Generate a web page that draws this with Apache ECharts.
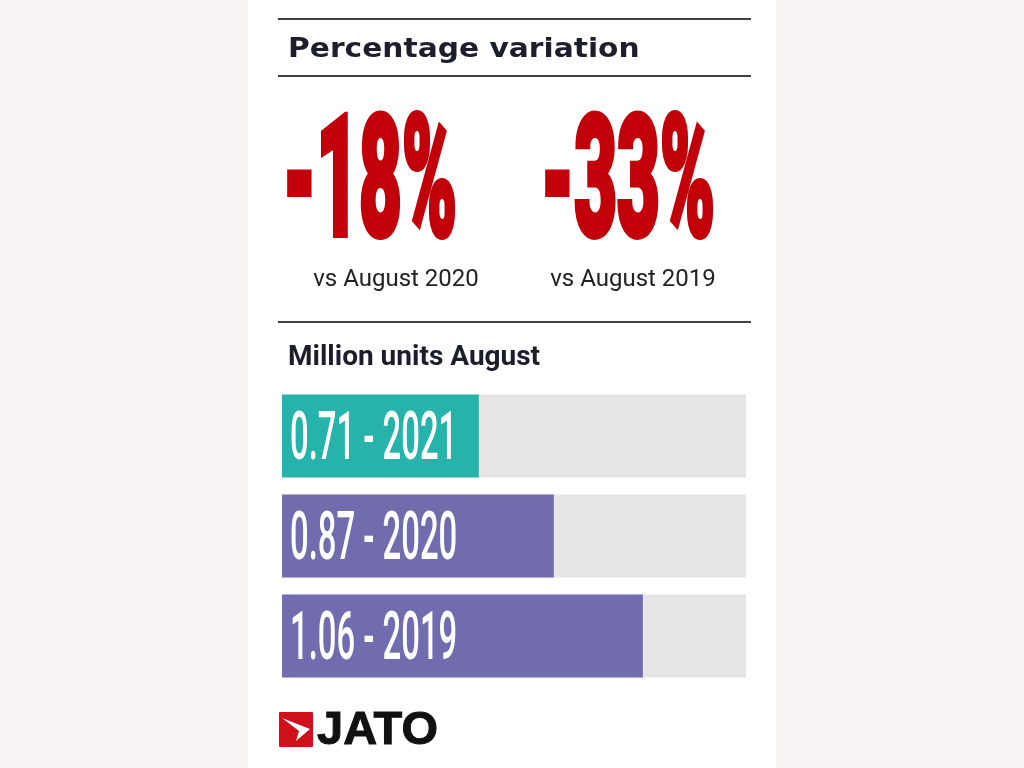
<!DOCTYPE html>
<html>
<head>
<meta charset="UTF-8">
<title>Percentage variation</title>
<style>
html, body { margin: 0; padding: 0; background: #f8f3f2; }
#main { width: 1024px; height: 768px; }
</style>
</head>
<body>
<div id="main"></div>
<script src="https://cdn.jsdelivr.net/npm/echarts@6/dist/echarts.min.js"></script>
<script>
// data
var years = ['2021', '2020', '2019'];
var units = [0.71, 0.87, 1.06];          // million units, August
var barColors = ['#26b3ab', '#716cae', '#716cae'];
var changes = [-18, -33];                // percentage variation
var changeLabels = ['vs August 2020', 'vs August 2019'];

var chart = echarts.init(document.getElementById('main'));

var RED = '#c1000a';
var INK = '#1c1e2b';

function rule(y) {
	return {
		type: 'line', silent: true,
		shape: { x1: 278, y1: y, x2: 751, y2: y },
		style: { stroke: '#414141', lineWidth: 2 }
	};
}

var decor = [
	{ type: 'rect', z: -10, silent: true, shape: { x: 248, y: 0, width: 528, height: 768 }, style: { fill: '#ffffff' } },
	rule(19), rule(76), rule(322),
	{
		type: 'text', x: 288, y: 50, scaleX: 1.1,
		style: { text: 'Percentage variation', fill: INK, font: 'bold 27px "DejaVu Sans"', textAlign: 'left', textVerticalAlign: 'middle' }
	},
	{
		type: 'text', x: 288, y: 358,
		style: { text: 'Million units August', fill: INK, font: 'bold 28px Roboto', textAlign: 'left', textVerticalAlign: 'middle' }
	},
	// JATO logo
	{ type: 'rect', shape: { x: 279, y: 712, width: 34, height: 35, r: 1 }, style: { fill: '#d0101a' } },
	{
		type: 'polygon',
		shape: { points: [[282, 718], [310, 729], [296, 741], [299, 731]] },
		style: { fill: '#ffffff' }
	},
	{
		type: 'text', x: 317, y: 731,
		style: { text: 'JATO', fill: '#111111', stroke: '#111111', lineWidth: 1, font: 'bold 47px "Liberation Sans"', textAlign: 'left', textVerticalAlign: 'middle' }
	}
];

// big percentage figures
var bigX = [283, 541];
var subX = [396, 633];
changes.forEach(function (v, i) {
	decor.push({
		type: 'text', x: bigX[i], y: 193, scaleX: 0.44,
		style: { text: v + '%', fill: RED, stroke: RED, lineWidth: 6, font: '900 168px Roboto', textAlign: 'left', textVerticalAlign: 'middle' }
	});
	decor.push({
		type: 'text', x: subX[i], y: 280,
		style: { text: changeLabels[i], fill: '#222222', font: '24px Roboto', textAlign: 'center', textVerticalAlign: 'middle' }
	});
});

chart.setOption({
	backgroundColor: '#f8f3f2',
	animation: false,
	grid: { left: 282, right: 278, top: 386, height: 300 },
	xAxis: { type: 'value', min: 0.29, max: 1.28, show: false },
	yAxis: { type: 'category', data: years, inverse: true, show: false },
	series: [{
		type: 'bar',
		barWidth: 83,
		clip: true,
		showBackground: true,
		backgroundStyle: { color: '#e7e5e6' },
		data: units.map(function (v, i) {
			return { value: v, itemStyle: { color: barColors[i] } };
		})
	}],
	graphic: decor
});

// bar labels, placed from the category axis
var labels = years.map(function (y, i) {
	var cy = chart.convertToPixel({ yAxisIndex: 0 }, y);
	return {
		type: 'text', x: 290, y: cy + 6, scaleX: 0.49, z: 10,
		style: { text: units[i].toFixed(2) + ' - ' + y, fill: '#ffffff', font: '500 67px Roboto', textAlign: 'left', textVerticalAlign: 'middle' }
	};
});
chart.setOption({ graphic: decor.concat(labels) });
</script>
</body>
</html>
